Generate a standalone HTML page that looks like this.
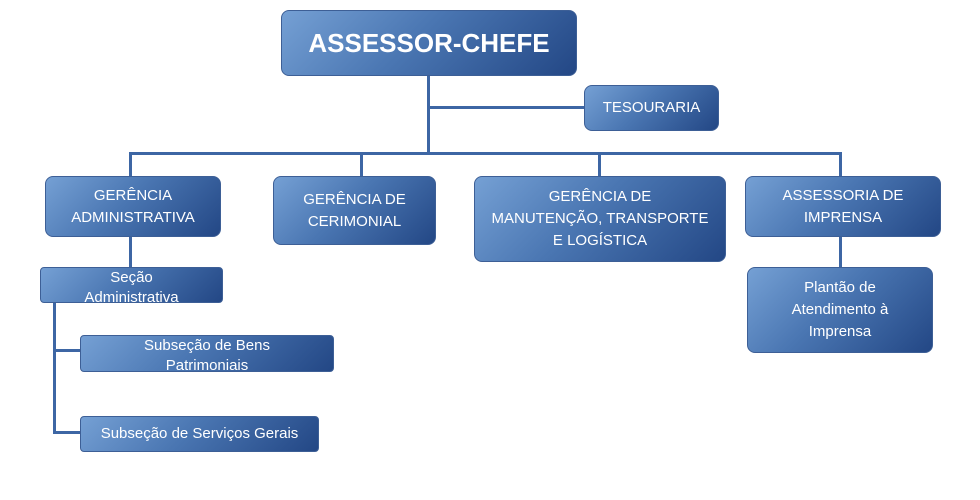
<!DOCTYPE html>
<html><head><meta charset="utf-8"><style>
body{margin:0;width:980px;height:500px;background:#fff;position:relative;overflow:hidden;font-family:"Liberation Sans",sans-serif}
.b{position:absolute;box-sizing:border-box;border:1px solid #3d5f96;border-radius:8px;background:linear-gradient(135deg,#75a0d4 0%,#4a76b2 45%,#234785 100%);color:#fff;display:flex;align-items:center;justify-content:center;text-align:center;font-size:15px;line-height:22px;overflow:hidden}
.s{border-radius:4px}
.l{position:absolute;background:#3d66a4}
</style></head><body>
<div class="l" style="left:427px;top:76px;width:3px;height:79px"></div>
<div class="l" style="left:427px;top:106px;width:158px;height:3px"></div>
<div class="l" style="left:129px;top:152px;width:713px;height:3px"></div>
<div class="l" style="left:129px;top:152px;width:3px;height:25px"></div>
<div class="l" style="left:360px;top:152px;width:3px;height:25px"></div>
<div class="l" style="left:598px;top:152px;width:3px;height:25px"></div>
<div class="l" style="left:839px;top:152px;width:3px;height:25px"></div>
<div class="l" style="left:129px;top:236px;width:3px;height:32px"></div>
<div class="l" style="left:53px;top:302px;width:3px;height:132px"></div>
<div class="l" style="left:53px;top:349px;width:28px;height:3px"></div>
<div class="l" style="left:53px;top:431px;width:28px;height:3px"></div>
<div class="l" style="left:839px;top:236px;width:3px;height:32px"></div>

<div class="b" style="left:281px;top:10px;width:296px;height:66px;font-size:26px;font-weight:bold">ASSESSOR-CHEFE</div>
<div class="b" style="left:584px;top:85px;width:135px;height:46px">TESOURARIA</div>
<div class="b" style="left:45px;top:176px;width:176px;height:61px">GERÊNCIA<br>ADMINISTRATIVA</div>
<div class="b" style="left:273px;top:176px;width:163px;height:69px">GERÊNCIA DE<br>CERIMONIAL</div>
<div class="b" style="left:474px;top:176px;width:252px;height:86px">GERÊNCIA DE<br>MANUTENÇÃO, TRANSPORTE<br>E LOGÍSTICA</div>
<div class="b" style="left:745px;top:176px;width:196px;height:61px">ASSESSORIA DE<br>IMPRENSA</div>
<div class="b" style="left:747px;top:267px;width:186px;height:86px">Plantão de<br>Atendimento à<br>Imprensa</div>
<div class="b s" style="left:40px;top:267px;width:183px;height:36px;align-items:flex-start;line-height:20px;margin:0">Seção<br>Administrativa</div>
<div class="b s" style="left:80px;top:335px;width:254px;height:37px;align-items:flex-start;line-height:20px">Subseção de Bens<br>Patrimoniais</div>
<div class="b s" style="left:80px;top:416px;width:239px;height:36px">Subseção de Serviços Gerais</div>
</body></html>
